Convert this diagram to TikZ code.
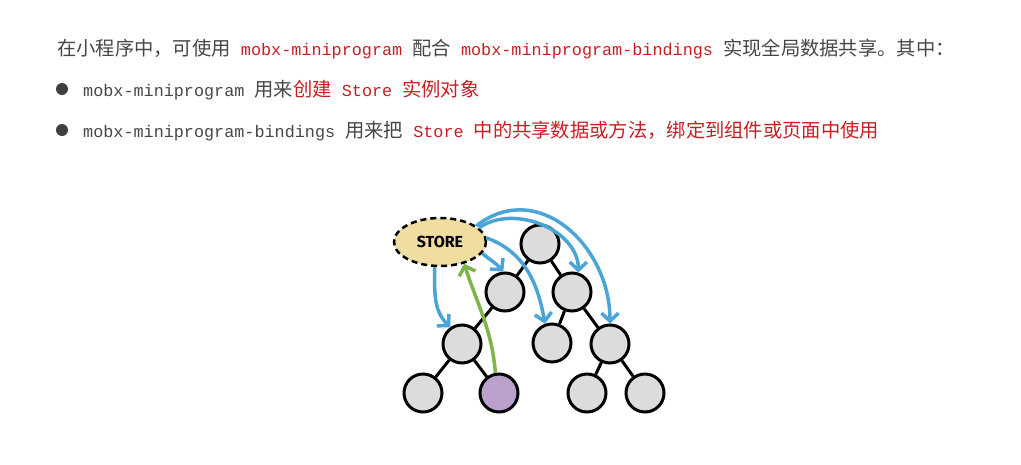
\documentclass[tikz,border=0pt]{standalone}
\usepackage{fontspec}
\setmonofont{Liberation Mono}
\newfontfamily\cjk{Noto Sans CJK SC}
\newfontfamily\storefont{Fira Sans}
\usetikzlibrary{arrows.meta,shapes.geometric}
\definecolor{txtgray}{RGB}{70,70,70}
\definecolor{txtred}{RGB}{200,30,35}
\definecolor{nodegray}{RGB}{220,220,220}
\definecolor{storefill}{RGB}{240,221,160}
\definecolor{arrowblue}{RGB}{74,165,214}
\definecolor{arrowgreen}{RGB}{125,180,75}
\definecolor{leafpurple}{RGB}{185,160,205}
\newcommand{\zh}[1]{{\cjk\fontsize{19.3}{22}\selectfont #1}}
\newcommand{\mono}[1]{{\ttfamily\fontsize{16.8}{22}\selectfont #1}}
\tikzset{
  line/.style={anchor=base west, inner sep=0pt, text=txtgray},
  tnode/.style={circle, draw=black, line width=3pt, fill=nodegray,
    minimum size=38pt, inner sep=0pt},
  tip/.style={-{Straight Barb[length=8pt,width=17pt,line width=3.5pt]}},
  share/.style={arrowblue, line width=3.5pt, tip},
}

\begin{document}
\begin{tikzpicture}[x=1pt,y=1pt]
        \useasboundingbox (0,0) rectangle (1021,-464);

        % text
        \node[line] (l1) at (57,-55) {\zh{在小程序中，可使用}\mono{ \textcolor{txtred}{mobx-miniprogram} }\zh{配合}\mono{ \textcolor{txtred}{mobx-miniprogram-bindings} }\zh{实现全局数据共享。其中：}};
        \node[line] (l2) at (83,-96) {\mono{mobx-miniprogram }\zh{用来\textcolor{txtred}{创建}}\mono{ \textcolor{txtred}{Store} }\zh{\textcolor{txtred}{实例对象}}};
        \node[line] (l3) at (83,-137) {\mono{mobx-miniprogram-bindings }\zh{用来把}\mono{ \textcolor{txtred}{Store} }\zh{\textcolor{txtred}{中的共享数据或方法，绑定到组件或页面中使用}}};
        \foreach \y in {-89,-130} \fill[txtgray!90!black] (62,\y) circle (6);

        % tree
        \node[tnode] (root) at (540,-244) {};
        \node[tnode] (a) at (505,-292) {};
        \node[tnode] (b) at (572,-292) {};
        \node[tnode] (aa) at (462,-344) {};
        \node[tnode] (ba) at (552,-343) {};
        \node[tnode] (bb) at (610,-344) {};
        \node[tnode] (aaa) at (423,-393) {};
        \node[tnode, fill=leafpurple] (aab) at (499,-393) {};
        \node[tnode] (bba) at (587,-393) {};
        \node[tnode] (bbb) at (645,-393) {};
        \foreach \p/\c in {root/a, root/b, a/aa, b/ba, b/bb, aa/aaa, aa/aab, bb/bba, bb/bbb}
          \draw[line width=3pt] (\p) -- (\c);

        \node[ellipse, draw=black, dashed, dash pattern=on 6pt off 4pt, line width=2.5pt,
          fill=storefill, minimum width=92pt, minimum height=48pt] (store) at (440,-242)
          {\storefont\bfseries\fontsize{16}{18}\selectfont STORE};

        % store -> components
        \draw[share] (store.258) to[out=-90,in=135] (aa.125);
        \draw[share] (store.-15) to[out=-40,in=130] (a.95);
        \draw[share] (store.5) to[out=-20,in=100] (ba.110);
        \draw[share] (store.20) to[out=35,in=90] (b.72);
        \draw[share] (store.24) to[out=38,in=90,looseness=1.2] (bb.90);
        % component -> store
        \draw[arrowgreen, line width=3.5pt, tip]
          (aab.100) to[out=95,in=-72] (store.-42);
      \end{tikzpicture}
\end{document}
